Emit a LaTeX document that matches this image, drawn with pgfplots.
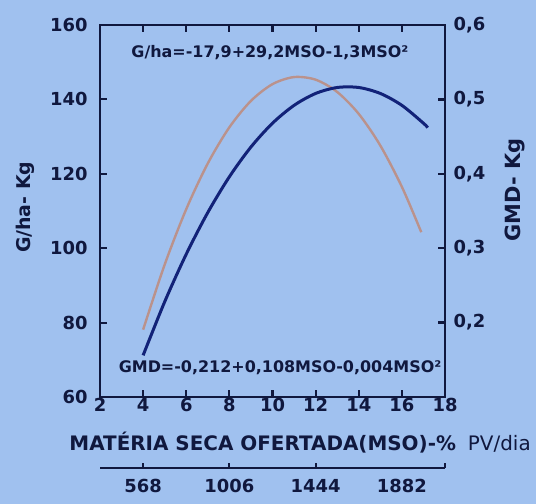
\documentclass[border=0pt]{standalone}
\usepackage{pgfplots}
\pgfplotsset{compat=1.18}
\usepackage{fontspec}
\setmainfont{DejaVu Sans}
\definecolor{bg}{RGB}{160,193,239}
\definecolor{ink}{RGB}{16,24,62}
\definecolor{gmd}{RGB}{18,34,120}
\definecolor{gha}{RGB}{186,146,140}
\newcommand{\tf}{\bfseries\fontsize{18}{18}\selectfont}
\begin{document}
\begin{tikzpicture}
\fill[bg] (-100bp,-107bp) rectangle (436bp,397bp);
\begin{axis}[
  at={(0,0)}, anchor=south west,
  scale only axis, width=345bp, height=372bp,
  xmin=2, xmax=18, ymin=60, ymax=160,
  xtick={2,4,...,18}, ytick={60,80,...,160},
  xtick pos=both, xticklabel pos=bottom, ytick pos=left,
  tick align=inside, major tick length=7bp,
  axis line style={ink, line width=2.8bp},
  tick style={ink, line width=2.2bp},
  ticklabel style={font=\tf, text=ink},
  /pgf/number format/assume math mode=true,
  yticklabel style={xshift=-9bp},
  xticklabel style={yshift=2bp},
  xlabel={MATÉRIA SECA OFERTADA(MSO)-\%\hspace{0.6em}{\mdseries PV/dia}},
  ylabel={G/ha- Kg},
  xlabel style={at={(axis description cs:0.58,0)}, anchor=center, yshift=-46bp, font=\bfseries\fontsize{20}{20}\selectfont, text=ink},
  ylabel style={at={(axis description cs:-0.217,0.51)}, anchor=center, font=\bfseries\fontsize{19}{19}\selectfont, text=ink},
]
\addplot[gha, line width=2.4bp, smooth] coordinates {
(4,78.1) (5,95.6) (6,110.5) (7,122.8) (8,132.5) (9,139.6) (10,144.1)
(11,146.0) (12,145.3) (13,142.0) (14,136.1) (15,127.6) (16,116.5) (16.9,104.3)};
\node[font=\bfseries\fontsize{16}{16}\selectfont, text=ink] at (axis cs:9.88,152.7) {G/ha=-17,9+29,2MSO-1,3MSO²};
\node[font=\bfseries\fontsize{16}{16}\selectfont, text=ink] at (axis cs:10.35,67.8) {GMD=-0,212+0,108MSO-0,004MSO²};
\end{axis}
\begin{axis}[
  at={(0,0)}, anchor=south west,
  scale only axis, width=345bp, height=372bp,
  xmin=2, xmax=18, ymin=0.1, ymax=0.6,
  axis x line=none, axis y line*=right,
  y axis line style={-, ink, line width=2.8bp},
  ytick={0.2,0.3,0.4,0.5,0.6},
  tick align=inside, major tick length=7bp,
  tick style={ink, line width=2.2bp},
  ticklabel style={font=\tf, text=ink},
  /pgf/number format/assume math mode=true,
  /pgf/number format/.cd, use comma, fixed, fixed zerofill, precision=1, /pgfplots/.cd,
  yticklabel style={xshift=5bp},
  ylabel={GMD- Kg},
  ylabel style={at={(axis description cs:1.203,0.556)}, anchor=center, font=\bfseries\fontsize{21}{21}\selectfont, text=ink},
]
\addplot[gmd, line width=3bp, smooth] coordinates {
(4,0.156) (5,0.228) (6,0.292) (7,0.348) (8,0.396) (9,0.436) (10,0.468)
(11,0.492) (12,0.508) (13,0.516) (14,0.516) (15,0.508) (16,0.492) (17,0.468) (17.2,0.462)};
\end{axis}
\begin{axis}[
  at={(0,-71bp)}, anchor=south west,
  scale only axis, width=345bp, height=10bp,
  xmin=2, xmax=18, ymin=0, ymax=1,
  axis y line=none, axis x line*=bottom,
  x axis line style={-, ink, line width=2.2bp},
  xtick={4,8,12,18}, xticklabels={568,1006,1444,{}},
  extra x ticks={16}, extra x tick labels={1882},
  extra x tick style={major tick length=0pt},
  tick align=inside, major tick length=5bp,
  tick style={ink, line width=2.2bp},
  ticklabel style={font=\tf, text=ink},
  xticklabel style={yshift=-8bp},
]
\end{axis}
\pgfresetboundingbox
\path (-100bp,-107bp) rectangle (436bp,397bp);
\end{tikzpicture}
\end{document}
